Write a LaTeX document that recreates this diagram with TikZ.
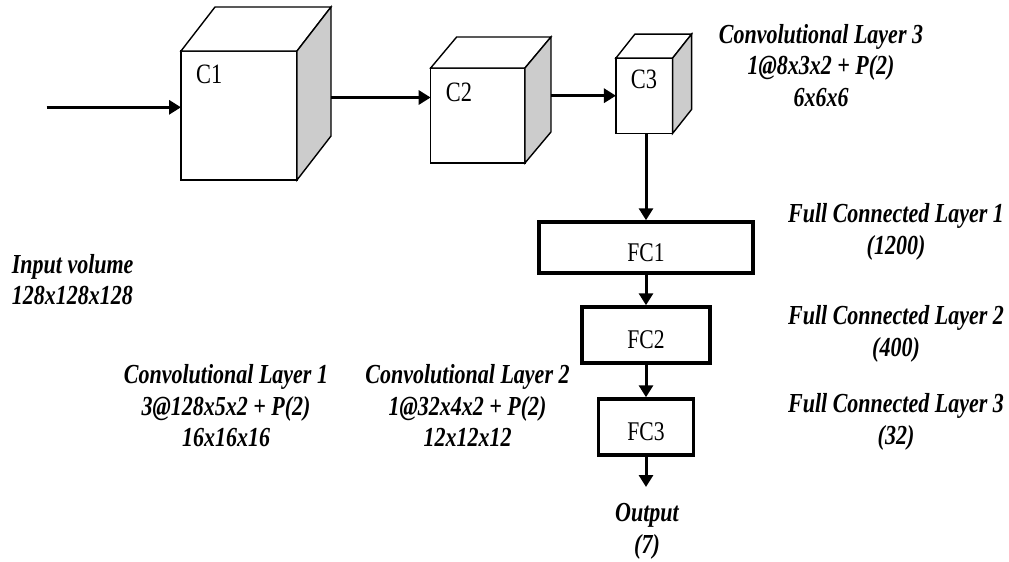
\documentclass[tikz,border=0pt]{standalone}
\usepackage{fontspec}
\setmainfont{Liberation Serif}[FakeStretch=0.8]
\usetikzlibrary{arrows.meta,calc}
\definecolor{sidegray}{HTML}{CCCCCC}
\tikzset{
  face/.style={draw=black, line width=1.4pt, line join=miter, fill=white},
  sideface/.style={face, fill=sidegray},
  cubefront/.style={face, inner sep=0pt, outer sep=0pt},
  cubetext/.style={anchor=base west, inner sep=0pt, font=\fontsize{28}{32}\selectfont},
  fcbox/.style={draw=black, line width=3.5pt, fill=white, inner sep=0pt,
     text height=27pt, text depth=0pt, font=\fontsize{27}{31}\selectfont},
  arr/.style={line width=3pt, -{Triangle[length=12pt,width=14pt]}},
  lab/.style={inner sep=0pt, align=center, anchor=base,
     font=\fontsize{27.5}{31.5}\selectfont\bfseries\itshape},
}
\newcommand{\cubesides}[3]{% node name, dx, dy (up)
  \draw[face] (#1.north west) -- ++(#2,-#3) -- ($(#1.north east)+(#2,-#3)$) -- (#1.north east) -- cycle;
  \draw[sideface] (#1.north east) -- ++(#2,-#3) -- ($(#1.south east)+(#2,-#3)$) -- (#1.south east) -- cycle;
}
\begin{document}
\begin{tikzpicture}[x=1pt,y=-1pt]
\useasboundingbox[fill=white] (0,0) rectangle (1009,562);

% cubes
\node[cubefront, minimum width=116pt, minimum height=129pt] (c1) at (239,115.5) {};
\cubesides{c1}{34}{44}
\node[cubefront, minimum width=94.3pt, minimum height=95pt] (c2) at (477.8,115.5) {};
\cubesides{c2}{26}{31}
\node[cubefront, minimum width=56.7pt, minimum height=75.3pt] (c3) at (644.3,95.7) {};
\cubesides{c3}{19}{24}

\node[cubetext] (c1t) at (196,83) {C1};
\node[cubetext] (c2t) at (445.7,101.7) {C2};
\node[cubetext] (c3t) at (630.7,88.3) {C3};

% fully connected boxes
\node[fcbox, minimum width=214pt, minimum height=51pt] (fc1) at (646,247.5) {FC1};
\node[fcbox, minimum width=128pt, minimum height=56pt] (fc2) at (646,335) {FC2};
\node[fcbox, minimum width=94.7pt, minimum height=56pt] (fc3) at (646,427) {FC3};

% connectors
\coordinate (in0) at (46.7,107.3);
\draw[arr] (in0) -- (in0 -| c1.west);
\coordinate (c1out) at (331,97.5);
\draw[arr] (c1out) -- (c1out -| c2.west);
\coordinate (c2out) at (550.7,95.7);
\draw[arr] (c2out) -- (c2out -| c3.west);
\coordinate (c3out) at (646,133.3);
\draw[arr] (c3out) -- (fc1.north);
\draw[arr] (fc1.south) -- (fc2.north);
\draw[arr] (fc2.south) -- (fc3.north);
\coordinate (outtip) at (646,487);
\draw[arr] (fc3.south) -- (outtip);

% labels (anchor = baseline of last line)
\node[lab] (l3) at (821,106) {Convolutional Layer 3\\1@8x3x2 + P(2)\\6x6x6};
\node[lab] (l1) at (226,446.5) {Convolutional Layer 1\\3@128x5x2 + P(2)\\16x16x16};
\node[lab] (l2) at (467.5,446.5) {Convolutional Layer 2\\1@32x4x2 + P(2)\\12x12x12};
\node[lab, align=left, anchor=base west] (lin) at (11.7,304.5) {Input volume\\128x128x128};
\node[lab] (f1) at (896,254) {Full Connected Layer 1\\(1200)};
\node[lab] (f2) at (896,356) {Full Connected Layer 2\\(400)};
\node[lab] (f3) at (896,444) {Full Connected Layer 3\\(32)};
\node[lab] (lout) at (647,553) {Output\\(7)};
\end{tikzpicture}
\end{document}
